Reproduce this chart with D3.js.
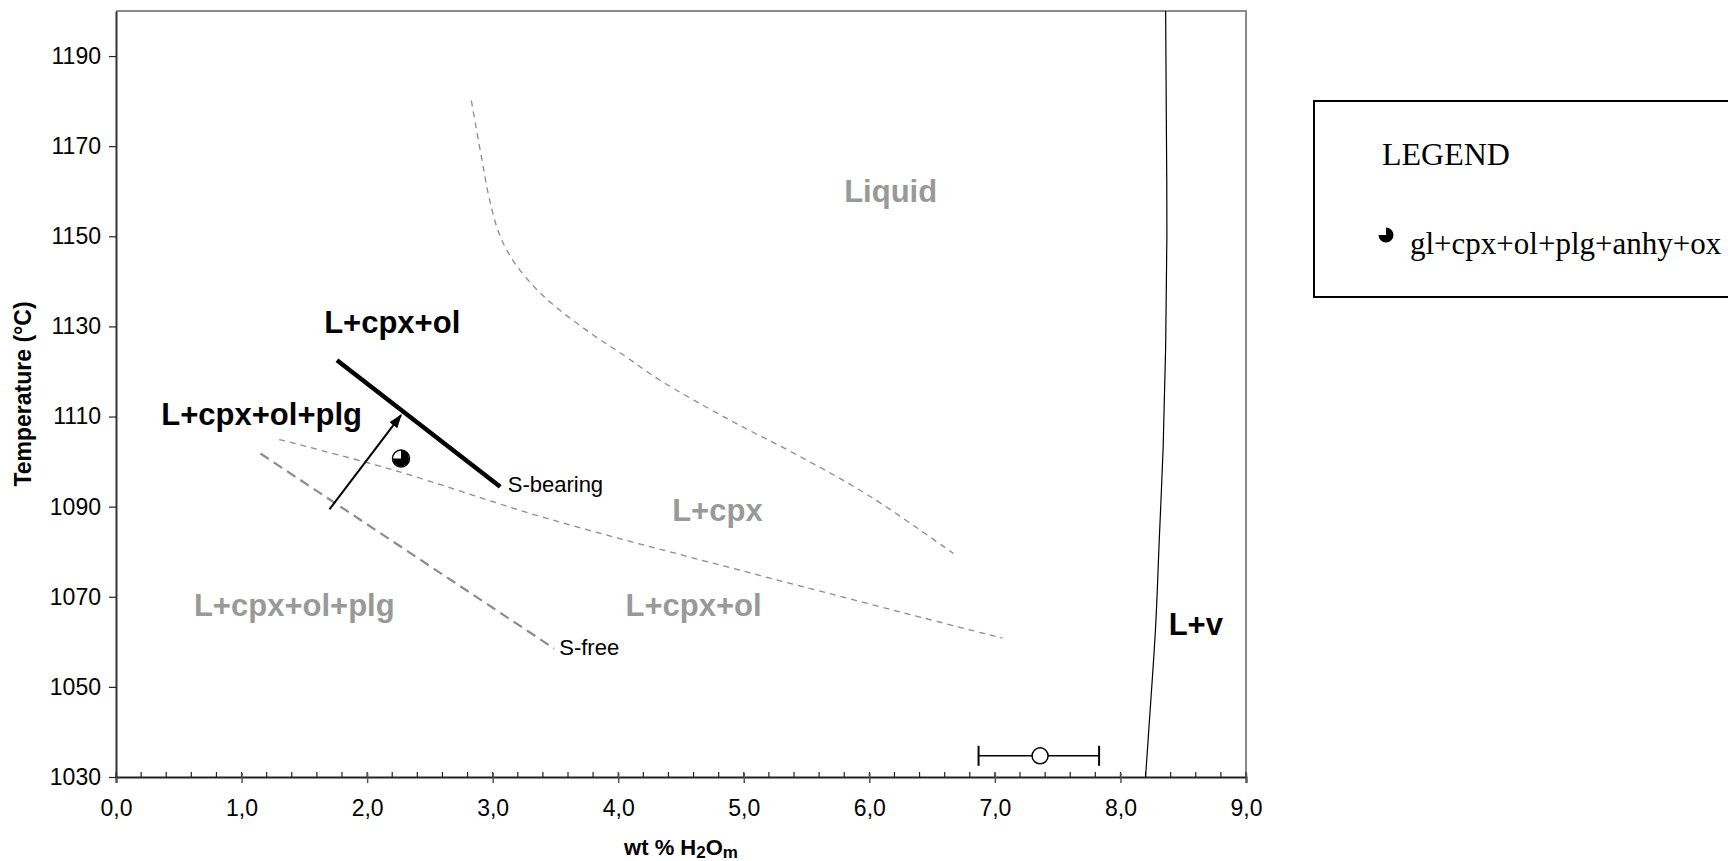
<!DOCTYPE html>
<html>
<head>
<meta charset="utf-8">
<script src="https://cdn.jsdelivr.net/npm/d3@7"></script>
<style>
  body { margin: 0; background: #fff; }
  svg { display: block; font-family: "Liberation Sans", Arial, sans-serif; }
</style>
</head>
<body>
<svg id="chart" width="1728" height="861"></svg>
<script>
// ---- data (x = wt% H2Om, y = temperature in C) ----
var xTicks = [0, 1, 2, 3, 4, 5, 6, 7, 8, 9];
var yTicks = [1030, 1050, 1070, 1090, 1110, 1130, 1150, 1170, 1190];

// liquidus (Liquid / L+cpx), thin dashed grey
var liquidusCurve = [[2.83,1180.1],[2.91,1167.7],[2.97,1158.8],[3.05,1150.7],[3.16,1144.7],[3.33,1138.8],
  [3.50,1134.4],[3.78,1128.5],[4.06,1123.3],[4.33,1118.1],[4.89,1109.2],[5.45,1101.1],[6.01,1092.2],[6.67,1079.6]];
// ol-in boundary (L+cpx / L+cpx+ol), thin dashed grey
var olCurve = [[1.30,1104.9],[2.20,1098.2],[3.42,1087.5],[5.05,1075.3],[7.06,1060.8]];
// plg-in, S-free (thicker dashed grey)
var sFreeLine = [[1.15,1101.8],[3.49,1058.5]];
// plg-in, S-bearing (thick black)
var sBearingLine = [[1.76,1122.5],[3.06,1094.4]];
// shift arrow
var shiftArrow = [[1.70,1089.4],[2.27,1110.3]];
// vapour saturation curve (L / L+v)
var vaporCurve = [[8.36,1200],[8.365,1177.6],[8.37,1150.3],[8.36,1125.4],[8.34,1103],[8.31,1083.2],
  [8.28,1063.3],[8.23,1042.2],[8.20,1030]];

// experiment
var runPoint = [2.27, 1100.7];
// analysed water with error bar
var waterPoint = [7.36, 1034.7];
var waterRange = [6.87, 7.83];

// field labels
var greyLabels = [
  {text: "Liquid", x: 6.17, t: 1160.0},
  {text: "L+cpx", x: 4.79, t: 1089.2},
  {text: "L+cpx+ol", x: 4.60, t: 1068.2},
  {text: "L+cpx+ol+plg", x: 1.42, t: 1068.2}
];
var blackLabels = [
  {text: "L+cpx+ol", x: 2.20, t: 1131.0},
  {text: "L+cpx+ol+plg", x: 1.16, t: 1110.5},
  {text: "L+v", x: 8.60, t: 1064.0}
];
var smallLabels = [
  {text: "S-bearing", x: 3.12, t: 1095.0},
  {text: "S-free", x: 3.53, t: 1058.8}
];
var legendLabel = "gl+cpx+ol+plg+anhy+ox";

// ---- layout ----
var mLeft = 116, mRight = 1246, mTop = 11, mBottom = 777;

var svg = d3.select("#chart");

var x = d3.scaleLinear().domain([0, 9]).range([mLeft, mRight]);
var y = d3.scaleLinear().domain([1030, 1200]).range([mBottom, mTop]);

var line = d3.line()
  .x(function(d){ return x(d[0]); })
  .y(function(d){ return y(d[1]); });

// frame: top and right sides grey
svg.append("path")
  .attr("d", "M" + mLeft + "," + mTop + "H" + mRight + "V" + mBottom)
  .attr("fill", "none")
  .attr("stroke", "#8a8a8a")
  .attr("stroke-width", 2);

// minor ticks on x axis every 0.2, pointing up
var minor = d3.range(0, 9.001, 0.2);
svg.append("g").selectAll("line")
  .data(minor)
  .enter()
  .append("line")
  .attr("x1", function(d){ return x(d); })
  .attr("x2", function(d){ return x(d); })
  .attr("y1", mBottom)
  .attr("y2", mBottom - 5)
  .attr("stroke", "#222")
  .attr("stroke-width", 1.2);

// x axis
var xAxis = d3.axisBottom(x)
  .tickValues(xTicks)
  .tickSize(6)
  .tickPadding(17)
  .tickFormat(function(d){ return d.toFixed(1).replace(".", ","); });

var gx = svg.append("g")
  .attr("transform", "translate(0," + mBottom + ")")
  .call(xAxis);
gx.select(".domain").attr("stroke", "#222").attr("stroke-width", 2);
gx.selectAll(".tick line").attr("y1", -4).attr("stroke", "#555").attr("stroke-width", 1.5);
gx.selectAll("text").attr("font-size", 23).attr("fill", "#000");

// y axis
var yAxis = d3.axisLeft(y)
  .tickValues(yTicks)
  .tickSize(7)
  .tickPadding(8)
  .tickSizeOuter(0)
  .tickFormat(d3.format("d"));

var gy = svg.append("g")
  .attr("transform", "translate(" + mLeft + ",0)")
  .call(yAxis);
gy.select(".domain").attr("stroke", "#333").attr("stroke-width", 2);
gy.selectAll(".tick line").attr("stroke", "#222").attr("stroke-width", 1.2);
gy.selectAll("text").attr("font-size", 23).attr("fill", "#000");

// axis titles
svg.append("text")
  .attr("transform", "translate(31," + ((mTop + mBottom) / 2) + ") rotate(-90)")
  .attr("text-anchor", "middle")
  .attr("font-weight", "bold")
  .attr("font-size", 23)
  .text("Temperature (°C)");

var xt = svg.append("text")
  .attr("x", (mLeft + mRight) / 2)
  .attr("y", 855)
  .attr("text-anchor", "middle")
  .attr("font-weight", "bold")
  .attr("font-size", 22);
xt.append("tspan").text("wt % H");
xt.append("tspan").attr("font-size", 17).attr("dy", 3).text("2");
xt.append("tspan").attr("dy", -3).text("O");
xt.append("tspan").attr("font-size", 17).attr("dy", 3).text("m");

// phase boundaries
svg.append("path")
  .attr("d", line.curve(d3.curveCatmullRom)(liquidusCurve))
  .attr("fill", "none")
  .attr("stroke", "#8c8c8c")
  .attr("stroke-width", 1.3)
  .attr("stroke-dasharray", "6,5");

svg.append("path")
  .attr("d", line.curve(d3.curveCatmullRom)(olCurve))
  .attr("fill", "none")
  .attr("stroke", "#8c8c8c")
  .attr("stroke-width", 1.3)
  .attr("stroke-dasharray", "6,5");

svg.append("path")
  .attr("d", line.curve(d3.curveLinear)(sFreeLine))
  .attr("fill", "none")
  .attr("stroke", "#8c8c8c")
  .attr("stroke-width", 2.2)
  .attr("stroke-dasharray", "10,6");

svg.append("path")
  .attr("d", line(sBearingLine))
  .attr("fill", "none")
  .attr("stroke", "#000")
  .attr("stroke-width", 4.5);

svg.append("path")
  .attr("d", line.curve(d3.curveCatmullRom)(vaporCurve))
  .attr("fill", "none")
  .attr("stroke", "#000")
  .attr("stroke-width", 1.2);

// arrow
svg.append("defs").append("marker")
  .attr("id", "head")
  .attr("viewBox", "0 0 10 10")
  .attr("refX", 9)
  .attr("refY", 5)
  .attr("markerWidth", 7)
  .attr("markerHeight", 7)
  .attr("markerUnits", "strokeWidth")
  .attr("orient", "auto")
  .append("path")
  .attr("d", "M0,1.5L10,5L0,8.5Z")
  .attr("fill", "#000");

svg.append("path")
  .attr("d", line.curve(d3.curveLinear)(shiftArrow))
  .attr("fill", "none")
  .attr("stroke", "#000")
  .attr("stroke-width", 2)
  .attr("marker-end", "url(#head)");

// pie symbol: 3/4 black, top-left quarter empty
var arc = d3.arc().innerRadius(0).outerRadius(8).startAngle(0).endAngle(Math.PI * 1.5);

var rp = svg.append("g")
  .attr("transform", "translate(" + x(runPoint[0]) + "," + y(runPoint[1]) + ")");
rp.append("circle").attr("r", 8.5).attr("fill", "#fff").attr("stroke", "#000").attr("stroke-width", 1.5);
rp.append("path").attr("d", arc()).attr("fill", "#000");

// water content with error bar
var wy = y(waterPoint[1]);
svg.append("line")
  .attr("x1", x(waterRange[0])).attr("x2", x(waterRange[1]))
  .attr("y1", wy).attr("y2", wy)
  .attr("stroke", "#000").attr("stroke-width", 1.5);
svg.selectAll(".cap")
  .data(waterRange)
  .enter()
  .append("line")
  .attr("class", "cap")
  .attr("x1", function(d){ return x(d); })
  .attr("x2", function(d){ return x(d); })
  .attr("y1", wy - 10).attr("y2", wy + 10)
  .attr("stroke", "#000").attr("stroke-width", 2);
svg.append("circle")
  .attr("cx", x(waterPoint[0])).attr("cy", wy)
  .attr("r", 8)
  .attr("fill", "#fff").attr("stroke", "#000").attr("stroke-width", 1.5);

// labels
svg.selectAll(".grey")
  .data(greyLabels)
  .enter()
  .append("text")
  .attr("class", "grey")
  .attr("x", function(d){ return x(d.x); })
  .attr("y", function(d){ return y(d.t); })
  .attr("dy", "0.36em")
  .attr("text-anchor", "middle")
  .attr("font-weight", "bold")
  .attr("font-size", 31)
  .attr("fill", "#999")
  .text(function(d){ return d.text; });

svg.selectAll(".black")
  .data(blackLabels)
  .enter()
  .append("text")
  .attr("class", "black")
  .attr("x", function(d){ return x(d.x); })
  .attr("y", function(d){ return y(d.t); })
  .attr("dy", "0.36em")
  .attr("text-anchor", "middle")
  .attr("font-weight", "bold")
  .attr("font-size", 31)
  .attr("fill", "#000")
  .text(function(d){ return d.text; });

svg.selectAll(".small")
  .data(smallLabels)
  .enter()
  .append("text")
  .attr("class", "small")
  .attr("x", function(d){ return x(d.x); })
  .attr("y", function(d){ return y(d.t); })
  .attr("dy", "0.36em")
  .attr("font-size", 22)
  .attr("fill", "#000")
  .text(function(d){ return d.text; });

// legend box (runs off the right edge)
var lg = svg.append("g").attr("font-family", "'Liberation Serif', 'Times New Roman', serif");
lg.append("rect")
  .attr("x", 1314).attr("y", 101)
  .attr("width", 480).attr("height", 196)
  .attr("fill", "#fff").attr("stroke", "#000").attr("stroke-width", 2);
lg.append("text")
  .attr("x", 1382).attr("y", 165)
  .attr("font-size", 32)
  .text("LEGEND");
lg.append("path")
  .attr("transform", "translate(1386,235)")
  .attr("d", d3.arc().innerRadius(0).outerRadius(7.5).startAngle(0).endAngle(Math.PI * 1.5)())
  .attr("fill", "#000");
lg.append("text")
  .attr("x", 1410).attr("y", 254)
  .attr("font-size", 31)
  .text(legendLabel);
</script>
</body>
</html>
